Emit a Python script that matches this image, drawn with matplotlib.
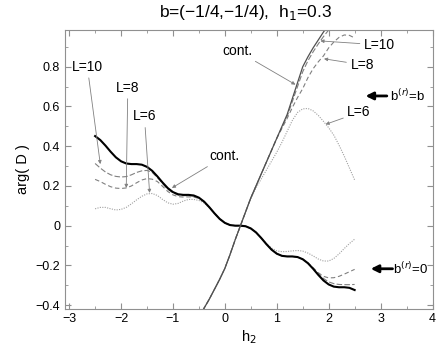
import numpy as np
import matplotlib
matplotlib.use("Agg")
import matplotlib.pyplot as plt
from matplotlib.ticker import MultipleLocator, FuncFormatter

plt.rcParams['font.family'] = ['Liberation Sans', 'DejaVu Sans']

# branch b^(r)=0 (falling staircase)
h_dec = np.linspace(-2.5, 2.5, 51)
dec_cont = [0.451, 0.431, 0.403, 0.372, 0.344, 0.324, 0.313, 0.310, 0.310, 0.307,
            0.296, 0.276, 0.248, 0.217, 0.189, 0.169, 0.158, 0.155, 0.155, 0.152,
            0.141, 0.121, 0.093, 0.062, 0.034, 0.014, 0.003, 0.000, 0.000, -0.003,
            -0.014, -0.034, -0.062, -0.093, -0.121, -0.141, -0.152, -0.155, -0.155, -0.158,
            -0.169, -0.189, -0.217, -0.248, -0.276, -0.296, -0.307, -0.310, -0.310, -0.313,
            -0.324]
dec_L10 = [0.313, 0.290, 0.270, 0.256, 0.248, 0.245, 0.247, 0.256, 0.268, 0.276,
           0.278, 0.268, 0.242, 0.212, 0.183, 0.165, 0.154, 0.151, 0.151, 0.149,
           0.139, 0.121, 0.093, 0.062, 0.034, 0.014, 0.003, 0.000, 0.000, -0.003,
           -0.014, -0.034, -0.062, -0.093, -0.121, -0.141, -0.152, -0.155, -0.155, -0.158,
           -0.169, -0.189, -0.214, -0.242, -0.266, -0.283, -0.292, -0.296, -0.297, -0.297,
           -0.296]
dec_L8 = [0.233, 0.222, 0.208, 0.196, 0.189, 0.187, 0.190, 0.200, 0.216, 0.230,
          0.237, 0.234, 0.222, 0.198, 0.172, 0.155, 0.146, 0.144, 0.145, 0.144,
          0.137, 0.120, 0.093, 0.062, 0.034, 0.014, 0.003, 0.000, 0.000, -0.003,
          -0.014, -0.034, -0.062, -0.093, -0.121, -0.141, -0.152, -0.155, -0.155, -0.158,
          -0.169, -0.188, -0.212, -0.237, -0.255, -0.263, -0.262, -0.255, -0.244, -0.232,
          -0.220]
dec_L6 = [0.085, 0.092, 0.092, 0.085, 0.079, 0.082, 0.092, 0.110, 0.130, 0.148,
          0.160, 0.162, 0.152, 0.132, 0.115, 0.108, 0.112, 0.124, 0.132, 0.132,
          0.127, 0.114, 0.090, 0.062, 0.034, 0.014, 0.003, 0.000, 0.000, -0.003,
          -0.014, -0.034, -0.062, -0.090, -0.113, -0.127, -0.131, -0.130, -0.127, -0.125,
          -0.128, -0.138, -0.152, -0.168, -0.178, -0.178, -0.165, -0.142, -0.115, -0.090,
          -0.068]

# branch b^(r)=b (rising)
h_rise = np.linspace(-0.5, 2.5, 31)
rise_cont = [-0.46, -0.415, -0.37, -0.32, -0.27, -0.215, -0.145, -0.07, 0.0, 0.07,
             0.14, 0.20, 0.26, 0.32, 0.38, 0.44, 0.50, 0.56, 0.64, 0.72,
             0.80, 0.85, 0.895, 0.935, 0.975, 1.01, 1.05, 1.09, 1.13, 1.17, 1.21]
rise_L10 = [-0.46, -0.415, -0.37, -0.32, -0.27, -0.215, -0.145, -0.07, 0.0, 0.07,
            0.14, 0.20, 0.26, 0.32, 0.38, 0.44, 0.495, 0.55, 0.625, 0.70,
            0.775, 0.83, 0.875, 0.915, 0.952, 0.985, 1.02, 1.05, 1.08, 1.11, 1.14]
rise_L8 = [-0.46, -0.415, -0.37, -0.32, -0.27, -0.215, -0.145, -0.07, 0.0, 0.07,
           0.14, 0.20, 0.26, 0.32, 0.38, 0.44, 0.49, 0.54, 0.595, 0.645,
           0.69, 0.745, 0.79, 0.825, 0.855, 0.895, 0.925, 0.948, 0.96, 0.958, 0.945]
rise_L6 = [-0.46, -0.415, -0.37, -0.32, -0.27, -0.215, -0.145, -0.07, 0.0, 0.07,
           0.135, 0.19, 0.235, 0.28, 0.325, 0.37, 0.42, 0.475, 0.53, 0.57,
           0.588, 0.59, 0.578, 0.555, 0.525, 0.493, 0.455, 0.405, 0.35, 0.29, 0.23]

fig = plt.figure(figsize=(4.36, 3.56), dpi=100)
ax = fig.add_axes([65/436, 1-308.5/356, 367.5/436, 278.5/356])

grey = '#808080'
lgrey = '#a0a0a0'
ax.plot(h_dec, dec_L6, color=lgrey, lw=0.8, ls=(0, (1, 1.2)))
ax.plot(h_dec, dec_L8, color=grey, lw=0.8, ls=(0, (4, 2.5)))
ax.plot(h_dec, dec_L10, color=grey, lw=0.8, ls=(0, (5, 2)))
ax.plot(h_dec, dec_cont, color='black', lw=1.5)

ax.plot(h_rise, rise_L6, color=lgrey, lw=0.8, ls=(0, (1, 1.2)))
ax.plot(h_rise, rise_L8, color=grey, lw=0.8, ls=(0, (4, 2.5)))
ax.plot(h_rise, rise_L10, color=grey, lw=0.8, ls=(0, (5, 2)))
ax.plot(h_rise, rise_cont, color='#505050', lw=0.9)

ax.set_xlim(-3.08, 4.0)
ax.set_ylim(-0.417, 0.985)

ax.xaxis.set_major_locator(MultipleLocator(1))
ax.xaxis.set_minor_locator(MultipleLocator(0.5))
ax.yaxis.set_major_locator(MultipleLocator(0.2))
ax.yaxis.set_minor_locator(MultipleLocator(0.1))

def fmt_y(v, pos):
    if abs(v) < 1e-9:
        return '0'
    return ('%.1f' % v).replace('-', '\u2212')

def fmt_x(v, pos):
    return ('%d' % round(v)).replace('-', '\u2212')

ax.yaxis.set_major_formatter(FuncFormatter(fmt_y))
ax.xaxis.set_major_formatter(FuncFormatter(fmt_x))
ax.tick_params(which='both', direction='in', top=True, right=True, color='#909090',
               labelsize=9)
ax.tick_params(which='major', length=4)
ax.tick_params(which='minor', length=2)
for s in ax.spines.values():
    s.set_color('#909090')
    s.set_linewidth(0.8)

ax.set_xlabel('h$_2$', fontsize=10.5, labelpad=2)
ax.set_ylabel('arg( D )', fontsize=10.5, labelpad=4)
fig.text(0.563, 0.965, 'b=(\u22121/4,\u22121/4),  h$_1$=0.3', ha='center', va='center',
         fontsize=12.5)

arr = dict(arrowstyle='-|>', color=grey, lw=0.6, mutation_scale=5, shrinkA=1, shrinkB=0)
def note(txt, xy, xytext, ha='center'):
    ax.annotate(txt, xy=xy, xytext=xytext, ha=ha, va='center', fontsize=10,
                arrowprops=arr)

note('L=10', (-2.4, 0.31), (-2.65, 0.80))
note('L=8', (-1.90, 0.19), (-1.87, 0.695))
note('L=6', (-1.45, 0.165), (-1.55, 0.55))
note('cont.', (-1.02, 0.19), (0.0, 0.35))
note('cont.', (1.36, 0.71), (0.24, 0.88))
note('L=10', (1.84, 0.93), (2.68, 0.91), ha='left')
note('L=8', (1.91, 0.84), (2.42, 0.81), ha='left')
note('L=6', (1.94, 0.51), (2.36, 0.57), ha='left')

big = dict(arrowstyle='-|>', color='black', lw=2, mutation_scale=11, shrinkA=0, shrinkB=0)
ax.annotate('', xy=(2.71, 0.653), xytext=(3.12, 0.653), arrowprops=big)
ax.text(3.18, 0.653, 'b$^{(r)}$=b', fontsize=9.5, va='center', ha='left')
ax.annotate('', xy=(2.81, -0.217), xytext=(3.23, -0.217), arrowprops=big)
ax.text(3.23, -0.217, 'b$^{(r)}$=0', fontsize=9.5, va='center', ha='left')

fig.savefig('out.png', dpi=100)
